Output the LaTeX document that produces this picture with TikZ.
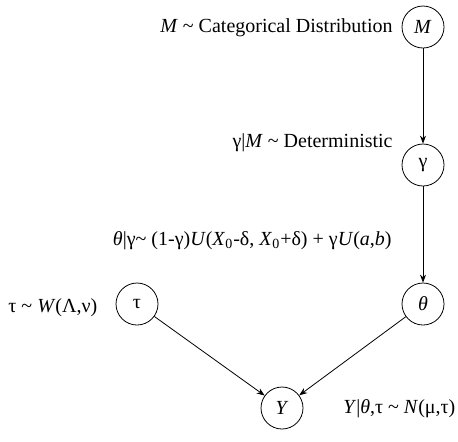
\documentclass[tikz,border=0pt]{standalone}
\usepackage{fontspec}
\setmainfont{Liberation Serif}
\usetikzlibrary{arrows.meta}

\begin{document}
\begin{tikzpicture}[x=0.5pt, y=-0.5pt,
    var/.style={draw, circle, line width=.4pt, minimum size=21pt, inner sep=0pt, font=\fontsize{10}{12}\selectfont},
    lbl/.style={font=\fontsize{10}{12}\selectfont, inner sep=0pt},
    edge/.style={line width=.4pt, -{Stealth[length=4pt, width=3pt]}}]
    \useasboundingbox (0,0) rectangle (458,441);
    %M node
    \node[var] (M) at (423,27) {\textit{M}};
    \node[lbl, anchor=base east] (lblM) at (393,32) {\textit{M} \textasciitilde{} Categorical Distribution};
    %gamma node
    \node[var] (gamma) at (423,165) {γ};
    \node[lbl, anchor=base east] (lblgamma) at (393,147) {γ|\textit{M} \textasciitilde{} Deterministic};
    %theta node
    \node[var] (theta) at (423,304) {\textit{θ}};
    \node[lbl, anchor=base east] (lbltheta) at (392,245) {\textit{θ}|γ\textasciitilde{} (1-γ)\textit{U}(\textit{X}\textsubscript{0}-δ, \textit{X}\textsubscript{0}+δ) + γ\textit{U}(\textit{a},\textit{b})};
    %tau node
    \node[var] (tau) at (137,304) {τ};
    \node[lbl, anchor=base west] (lbltau) at (8,312) {τ \textasciitilde{} \textit{W}(Λ,ν)};
    %Y node
    \node[var] (Y) at (282,408) {\textit{Y}};
    \node[lbl, anchor=base west] (lblY) at (343,413) {\textit{Y}|\textit{θ},τ \textasciitilde{} \textit{N}(μ,τ)};
    %edges
    \draw[edge] (M) -- (gamma);
    \draw[edge] (gamma) -- (theta);
    \draw[edge] (tau) -- (Y);
    \draw[edge] (theta) -- (Y);
\end{tikzpicture}
\end{document}
